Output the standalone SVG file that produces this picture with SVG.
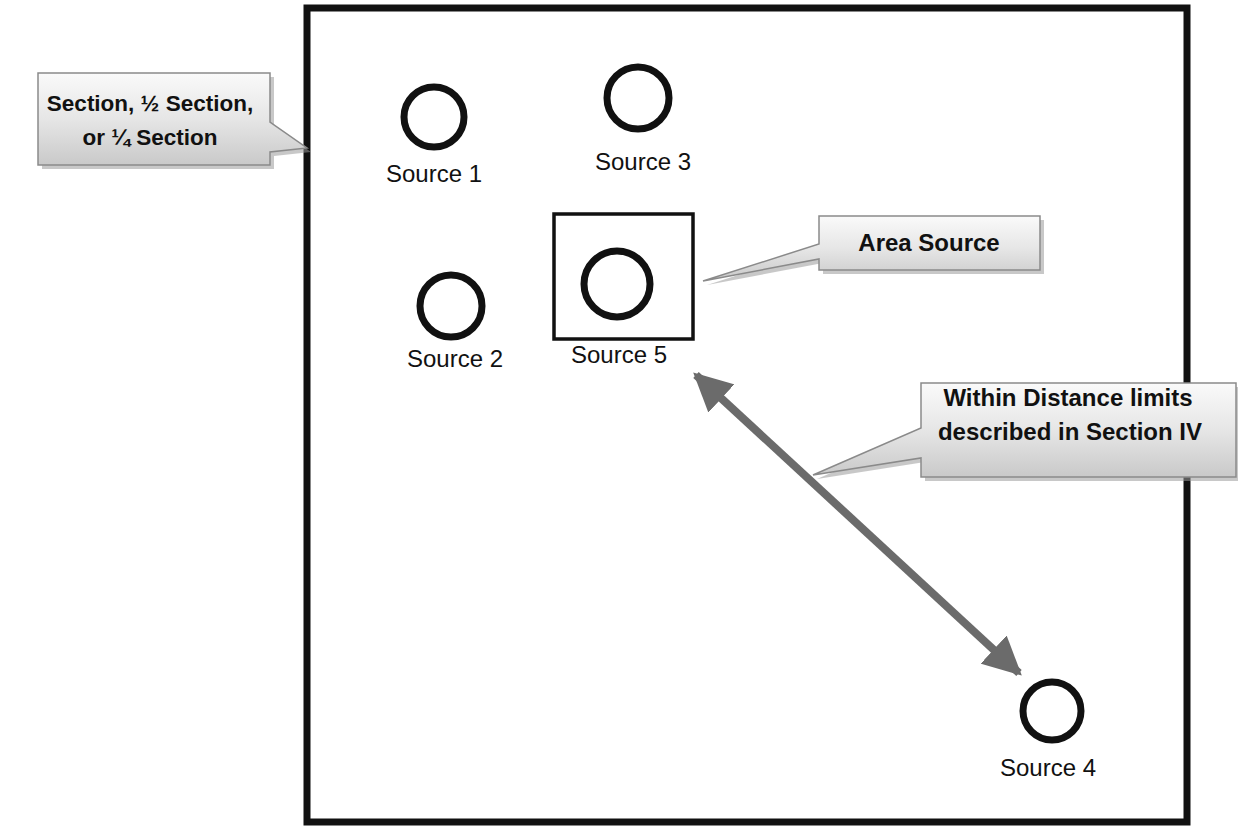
<svg xmlns="http://www.w3.org/2000/svg" width="1238" height="826" viewBox="0 0 1238 826">
<style>
.src{fill:none;stroke:#111;stroke-width:7}
.lbl{font-family:"Liberation Sans",Arial,sans-serif;font-size:24px;fill:#111;text-anchor:middle}
.co{fill:url(#cg);stroke:#8a8a8a;stroke-width:1.5}
.sh{fill:#9a9a9a;opacity:0.55}
.cot{font-family:"Liberation Sans",Arial,sans-serif;font-size:24px;font-weight:bold;fill:#111;text-anchor:middle}
</style>
<defs>
<linearGradient id="cg" x1="0" y1="0" x2="0" y2="1">
<stop offset="0" stop-color="#fafafa"/>
<stop offset="0.5" stop-color="#e6e6e6"/>
<stop offset="1" stop-color="#c9c9c9"/>
</linearGradient>
<marker id="ah" viewBox="0 0 10 10" refX="9" refY="5" markerWidth="4.8" markerHeight="4.8" orient="auto-start-reverse" markerUnits="strokeWidth">
<path d="M0,0 L10,5 L0,10 Z" fill="#6b6b6b"/>
</marker>
</defs>
<rect width="1238" height="826" fill="#fff"/>
<g id="frame"><rect x="307" y="8" width="880" height="814" fill="none" stroke="#111" stroke-width="7"/></g>

<g id="connectors">
<line x1="696" y1="375" x2="1019" y2="673" stroke="#6b6b6b" stroke-width="8" marker-start="url(#ah)" marker-end="url(#ah)"/>
</g>

<g id="source1"><circle class="src" cx="434" cy="117" r="30"/><text class="lbl" x="434" y="182">Source 1</text></g>
<g id="source3"><circle class="src" cx="638" cy="98" r="31"/><text class="lbl" x="643" y="170">Source 3</text></g>
<g id="source2"><circle class="src" cx="451" cy="306" r="31"/><text class="lbl" x="455" y="367">Source 2</text></g>
<g id="source5"><rect x="554" y="214" width="139" height="125" fill="none" stroke="#111" stroke-width="3.5"/><circle class="src" cx="617" cy="284" r="33"/><text class="lbl" x="619" y="363">Source 5</text></g>
<g id="source4"><circle class="src" cx="1052" cy="711" r="29"/><text class="lbl" x="1048" y="776">Source 4</text></g>

<g id="callout-section">
<path class="sh" d="M42,77 H274 V126 L311,152 L274,156 V169 H42 Z"/>
<path class="co" d="M38,73 H270 V122 L307,148 L270,152 V165 H38 Z"/>
<text class="cot" x="150" y="111" style="font-size:22.5px">Section, ½ Section,</text>
<text class="cot" x="150" y="145" style="font-size:22.5px">or ¼ Section</text>
</g>
<g id="callout-area">
<path class="sh" d="M823,220 H1044 V274 H823 V263 L707,285 L823,248 Z"/>
<path class="co" d="M819,216 H1040 V270 H819 V259 L703,281 L819,244 Z"/>
<text class="cot" x="929" y="251">Area Source</text>
</g>
<g id="callout-distance">
<path class="sh" d="M925,387 H1240 V481 H925 V462 L817,479 L925,432 Z"/>
<path class="co" d="M921,383 H1236 V477 H921 V458 L813,475 L921,428 Z"/>
<text class="cot" x="1068" y="406">Within Distance limits</text>
<text class="cot" x="1070" y="440">described in Section IV</text>
</g>
</svg>
